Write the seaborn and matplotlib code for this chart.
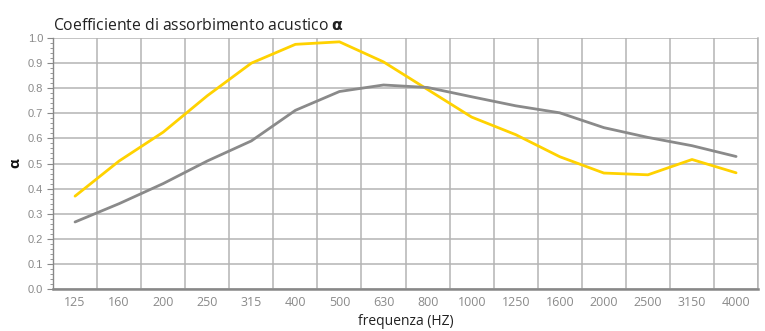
import numpy as np
import pandas as pd
import matplotlib.pyplot as plt
import seaborn as sns
from matplotlib.ticker import MultipleLocator, FixedLocator

freqs = ["125", "160", "200", "250", "315", "400", "500", "630",
         "800", "1000", "1250", "1600", "2000", "2500", "3150", "4000"]
yellow = [0.37, 0.51, 0.625, 0.77, 0.90, 0.975, 0.985, 0.905,
          0.795, 0.685, 0.615, 0.527, 0.462, 0.455, 0.516, 0.463]
grey = [0.267, 0.34, 0.42, 0.51, 0.59, 0.712, 0.787, 0.813,
        0.803, 0.766, 0.73, 0.702, 0.643, 0.604, 0.571, 0.528]
yticks = [0.0, 0.1, 0.2, 0.3, 0.4, 0.5, 0.6, 0.7, 0.8, 0.9, 1.0]

df = pd.DataFrame({
    "pos": list(range(len(freqs))) * 2,
    "alpha": yellow + grey,
    "serie": ["A"] * len(freqs) + ["B"] * len(freqs),
})

sns.set_style("white")
plt.rcParams["font.family"] = ["Open Sans", "DejaVu Sans"]

fig = plt.figure(figsize=(7.65, 3.31), dpi=100)
ax = fig.add_axes([0.0693, 0.127, 0.9217, 0.758])

sns.lineplot(data=df, x="pos", y="alpha", hue="serie",
             palette={"A": "#FFD200", "B": "#8A8A8A"},
             linewidth=2.0, legend=False, ax=ax, zorder=3)

ax.set_xlim(-0.5, 15.5)
ax.set_ylim(0, 1.0)
ax.set_xticks(range(len(freqs)))
ax.set_xticklabels(freqs)
ax.xaxis.set_minor_locator(FixedLocator(np.arange(0.5, 15.6, 1)))
ax.set_yticks(yticks)
ax.set_yticklabels([f"{v:.1f}" for v in yticks], family="Liberation Sans")
ax.yaxis.set_minor_locator(MultipleLocator(0.02))

ax.grid(True, axis="y", which="major", color="#b4b4b4", linewidth=1.1)
ax.grid(True, axis="x", which="minor", color="#b4b4b4", linewidth=1.1)
ax.grid(False, axis="x", which="major")

ax.spines["top"].set_visible(False)
ax.spines["right"].set_color("#b4b4b4")
ax.spines["right"].set_linewidth(1.1)
ax.spines["left"].set_color("#888888")
ax.spines["left"].set_linewidth(1.0)
ax.spines["bottom"].set_color("#888888")
ax.spines["bottom"].set_linewidth(1.8)

ax.tick_params(axis="y", which="major", length=4, color="#888888",
               labelsize=8, labelcolor="#8a8a8a", pad=3, left=True)
ax.tick_params(axis="y", which="minor", length=2, color="#888888", left=True)
ax.tick_params(axis="x", which="major", length=0, labelsize=9,
               labelcolor="#8a8a8a", pad=5)
ax.tick_params(axis="x", which="minor", length=0)

ax.set_xlabel("frequenza (HZ)", fontsize=10, color="#222222", labelpad=4)
ax.set_ylabel("α", fontsize=11, fontweight="bold", color="#111111", labelpad=4)
ax.set_title("Coefficiente di assorbimento acustico $\\mathbf{α}$",
             loc="left", fontsize=11.3, color="#222222", pad=6, x=0.0)

fig.savefig("out.png", dpi=100)
